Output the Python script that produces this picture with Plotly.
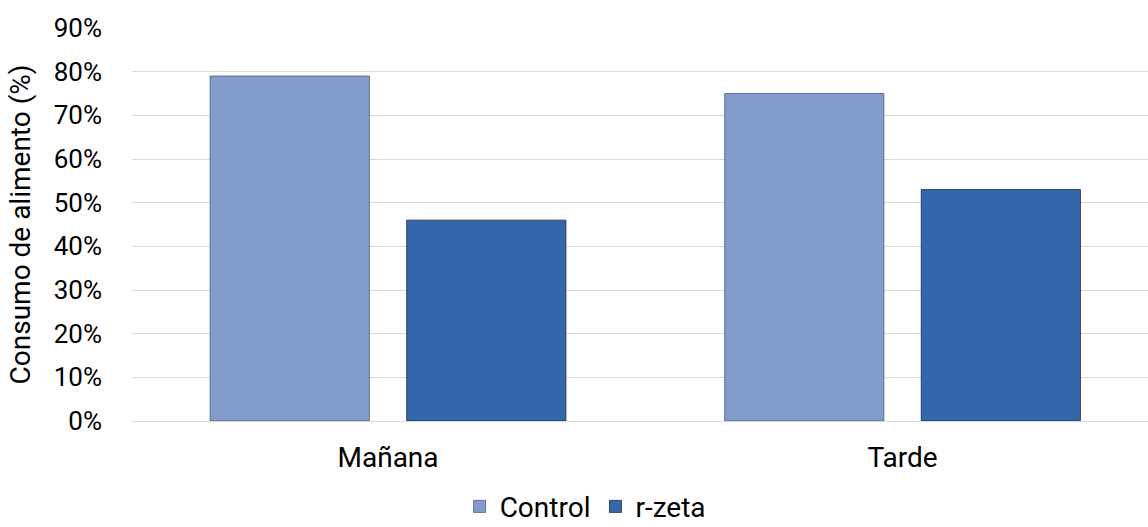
import plotly.graph_objects as go

categories = ["Mañana", "Tarde"]
control = [0.79, 0.75]
rzeta = [0.46, 0.53]
y_ticks = [0, 0.1, 0.2, 0.3, 0.4, 0.5, 0.6, 0.7, 0.8, 0.9]
y_labels = ["0%", "10%", "20%", "30%", "40%", "50%", "60%", "70%", "80%", "90%"]

FONT = "Roboto, Arial, sans-serif"

fig = go.Figure()
fig.add_trace(go.Bar(
    x=categories, y=control, name="Control",
    marker=dict(color="#829dcd", line=dict(color="rgba(60,75,110,0.7)", width=1)),
))
fig.add_trace(go.Bar(
    x=categories, y=rzeta, name="r-zeta",
    marker=dict(color="#3466aa", line=dict(color="rgba(25,45,80,0.8)", width=1)),
))

fig.update_layout(
    width=1148, height=527,
    paper_bgcolor="white", plot_bgcolor="white",
    font=dict(family=FONT, size=26, color="#000000"),
    barmode="group", bargap=0.236, bargroupgap=0.19,
    margin=dict(l=132, r=0, t=28, b=106),
    showlegend=True,
    legend=dict(
        orientation="h", x=0.446, xanchor="center",
        yref="container", y=0.086, yanchor="top",
        font=dict(family=FONT, size=28, color="#000000"),
        itemwidth=30, traceorder="normal",
    ),
)

fig.update_xaxes(
    range=[-0.4976, 1.477], showgrid=False, showline=False, zeroline=False,
    ticks="", ticklabelstandoff=17, tickfont=dict(size=28),
)
fig.update_yaxes(
    range=[0, 0.9], tickvals=y_ticks, ticktext=y_labels,
    showgrid=True, gridcolor="#d9d9d9", gridwidth=1,
    zeroline=True, zerolinecolor="#d9d9d9", zerolinewidth=1,
    showline=False, ticks="", ticklabelstandoff=29, automargin=False,
    tickfont=dict(size=26),
    title=dict(text="Consumo de alimento (%)", font=dict(size=28), standoff=14),
)

# drop the browser's default 8px body margin so the figure fills the window
fig.write_html(
    "out.html",
    config={"displayModeBar": False},
    post_script="document.body.style.margin='0';",
)
